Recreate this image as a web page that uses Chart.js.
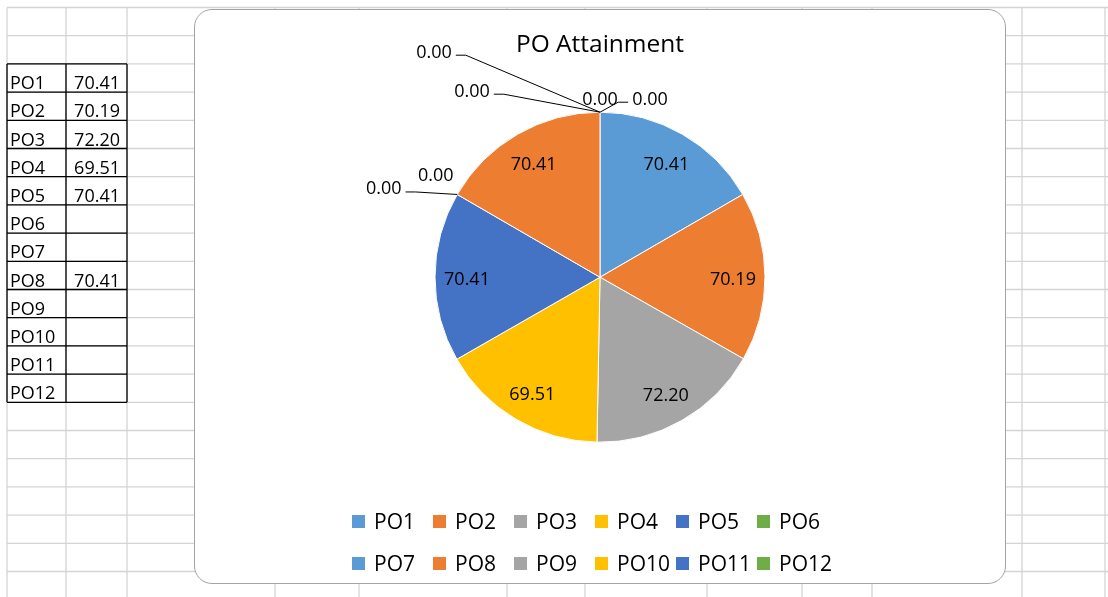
<!DOCTYPE html>
<html>
<head>
<meta charset="utf-8">
<title>PO Attainment</title>
<script src="https://cdn.jsdelivr.net/npm/chart.js@4.4.1/dist/chart.umd.min.js"></script>
<style>
    html, body { margin: 0; padding: 0; background: #fff; }
    body { width: 1108px; height: 597px; position: relative; overflow: hidden; font-family: 'Open Sans', sans-serif; }
    #sheet { position: absolute; left: 0; top: 0; }
    .cell { position: absolute; font-size: 18px; line-height: 24.5px; color: #000; white-space: nowrap; }
    #chartBox { position: absolute; left: 194px; top: 9px; width: 812px; height: 575px; box-sizing: border-box;
        border: 1px solid #a3a3a3; border-radius: 18px; background: #fff; overflow: hidden; }
    #chartWrap { position: absolute; left: 0; top: 0; width: 810px; height: 573px; }
    .legend-item { position: absolute; height: 20px; display: flex; align-items: center; font-size: 21px; line-height: 20px; color: #000; white-space: nowrap; }
    .legend-item span.box { width: 13px; height: 13px; margin-right: 9px; display: inline-block; }
</style>
</head>
<body>
<canvas id="sheet" width="1108" height="597"></canvas>
<div id="table"></div>
<div id="chartBox">
    <div id="chartWrap"><canvas id="poChart"></canvas></div>
    <div id="legend"></div>
</div>
<script>
// data from the sheet
const categories = ['PO1', 'PO2', 'PO3', 'PO4', 'PO5', 'PO6', 'PO7', 'PO8', 'PO9', 'PO10', 'PO11', 'PO12'];
const attainment = [70.41, 70.19, 72.20, 69.51, 70.41, null, null, 70.41, null, null, null, null];
const officeColors = ['#5B9BD5', '#ED7D31', '#A5A5A5', '#FFC000', '#4472C4', '#70AD47'];
const sliceColors = categories.map((_, i) => officeColors[i % officeColors.length]);

// where excel put the 0.00 labels, relative to the point on the rim
const zeroLabelOffset = {
    5: { dx: -21.5, dy: -19.5, leader: false },
    6: { dx: -73.5, dy: -6.5, leader: true },
    8: { dx: -166, dy: -61, leader: true },
    9: { dx: -128, dy: -22, leader: true },
    10: { dx: 0, dy: -14, leader: false },
    11: { dx: 50, dy: -14, leader: true }
};

// spreadsheet grid
const colLines = [7, 66, 127, 275, 359, 507, 585, 707, 802, 872, 1022, 1105];
const rowTop = 7.5, rowH = 28.2;

function drawSheet() {
    const c = document.getElementById('sheet').getContext('2d');
    c.strokeStyle = '#d4d4d4';
    c.lineWidth = 1.3;
    for (let k = 0; k < 22; k++) {
        const y = rowTop + rowH * k;
        c.beginPath(); c.moveTo(7, y); c.lineTo(1108, y); c.stroke();
    }
    colLines.forEach(x => {
        c.beginPath(); c.moveTo(x, rowTop); c.lineTo(x, 597); c.stroke();
    });
    // table borders
    const t0 = rowTop + rowH * 2, t1 = t0 + rowH * categories.length;
    c.strokeStyle = '#000';
    c.lineWidth = 1.3;
    for (let i = 0; i <= categories.length; i++) {
        const y = t0 + rowH * i;
        c.beginPath(); c.moveTo(7, y); c.lineTo(127, y); c.stroke();
    }
    [7, 66, 127].forEach(x => {
        c.beginPath(); c.moveTo(x, t0); c.lineTo(x, t1); c.stroke();
    });

    const table = document.getElementById('table');
    categories.forEach((cat, i) => {
        const top = t0 + rowH * i + 6.2;
        const a = document.createElement('div');
        a.className = 'cell';
        a.style.left = '10px';
        a.style.top = top + 'px';
        a.textContent = cat;
        table.appendChild(a);
        if (attainment[i] !== null) {
            const b = document.createElement('div');
            b.className = 'cell';
            b.style.left = '66px';
            b.style.width = '54px';
            b.style.textAlign = 'right';
            b.style.top = top + 'px';
            b.textContent = attainment[i].toFixed(2);
            table.appendChild(b);
        }
    });
}

function buildLegend() {
    const legend = document.getElementById('legend');
    categories.forEach((cat, i) => {
        const item = document.createElement('div');
        item.className = 'legend-item';
        const row = Math.floor(i / 6), col = i % 6;
        item.style.left = (157 + col * 81) + 'px';
        item.style.top = (501 + row * 42) + 'px';
        const box = document.createElement('span');
        box.className = 'box';
        box.style.background = sliceColors[i];
        item.appendChild(box);
        item.appendChild(document.createTextNode(cat));
        legend.appendChild(item);
    });
}

// value labels, inside the slices and with leader lines for the zero ones
const sliceLabels = {
    id: 'sliceLabels',
    afterDatasetsDraw(chart) {
        const ctx = chart.ctx;
        const arcs = chart.getDatasetMeta(0).data;
        const values = chart.data.datasets[0].data;
        const capHalf = 0.714 * 18 / 2;
        ctx.save();
        ctx.font = '18px "Open Sans"';
        ctx.fillStyle = '#000';
        ctx.strokeStyle = '#000';
        ctx.lineWidth = 1;
        ctx.textAlign = 'center';
        ctx.textBaseline = 'alphabetic';
        arcs.forEach((arc, i) => {
            const text = values[i].toFixed(2);
            const p = arc.getProps(['x', 'y', 'startAngle', 'endAngle', 'outerRadius'], true);
            if (values[i] > 0) {
                const mid = (p.startAngle + p.endAngle) / 2;
                const r = p.outerRadius * 0.806;
                ctx.fillText(text, p.x + Math.cos(mid) * r, p.y + Math.sin(mid) * r + 2 + capHalf);
            } else {
                const ax = p.x + Math.cos(p.startAngle) * p.outerRadius;
                const ay = p.y + Math.sin(p.startAngle) * p.outerRadius;
                const z = zeroLabelOffset[i] || { dx: 0, dy: -14, leader: false };
                const lx = ax + z.dx, ly = ay + z.dy;
                ctx.fillText(text, lx, ly + capHalf);
                if (z.leader) {
                    const half = ctx.measureText(text).width / 2;
                    const side = lx < ax ? 1 : -1;
                    const sx = lx + side * (half + 4), sy = ly + 4;
                    ctx.beginPath();
                    ctx.moveTo(sx, sy);
                    ctx.lineTo(sx + side * 10, sy);
                    ctx.lineTo(ax, ay);
                    ctx.stroke();
                }
            }
        });
        ctx.restore();
    }
};

drawSheet();
buildLegend();

Chart.defaults.font.family = "'Open Sans', sans-serif";
Chart.defaults.color = '#000';

const ctx = document.getElementById('poChart').getContext('2d');
const poChart = new Chart(ctx, {
    type: 'pie',
    data: {
        labels: categories,
        datasets: [{
            data: attainment.map(v => v ?? 0),
            backgroundColor: sliceColors,
            borderColor: '#ffffff',
            borderWidth: 1,
            radius: 165
        }]
    },
    options: {
        responsive: true,
        maintainAspectRatio: false,
        animation: false,
        layout: { padding: { top: 0, bottom: 98.6, left: 0, right: 0 } },
        plugins: {
            title: {
                display: true,
                text: 'PO Attainment',
                color: '#000',
                font: { size: 24.5, weight: 'normal' },
                padding: { top: 20.6, bottom: 10 }
            },
            legend: { display: false },
            tooltip: { enabled: false }
        }
    },
    plugins: [sliceLabels]
});
</script>
</body>
</html>
